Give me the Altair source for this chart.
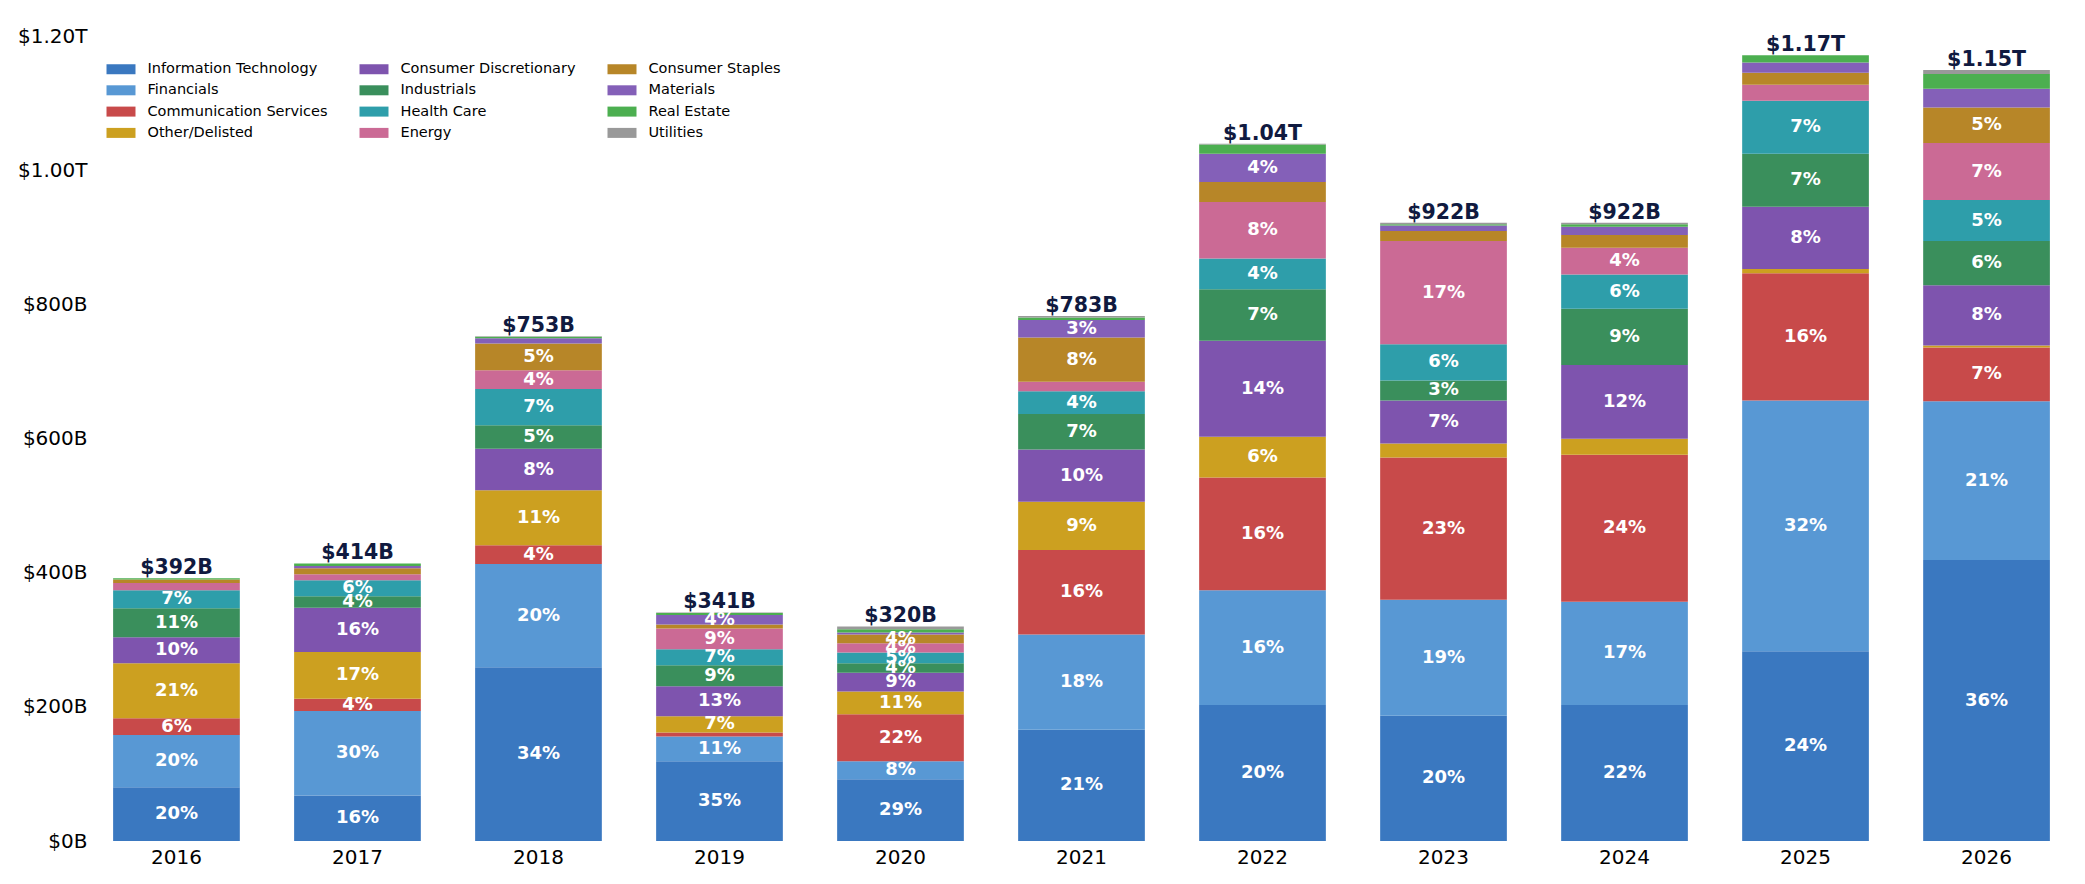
import altair as alt
import pandas as pd

years = ["2016", "2017", "2018", "2019", "2020", "2021", "2022", "2023", "2024", "2025", "2026"]

sectors = [
    "Information Technology", "Financials", "Communication Services", "Other/Delisted",
    "Consumer Discretionary", "Industrials", "Health Care", "Energy",
    "Consumer Staples", "Materials", "Real Estate", "Utilities",
]

# values in $B, per sector, per year
info_tech   = [80, 68, 259, 119, 92, 166, 203, 187, 203, 283, 419]
financials  = [78, 126, 154, 37, 27, 142, 171, 173, 154, 374, 237]
comm_serv   = [25, 18, 28, 6, 70, 126, 168, 212, 219, 190, 80]
other_del   = [82, 70, 82, 24, 34, 72, 61, 21, 24, 6, 3]
cons_disc   = [39, 66, 62, 45, 28, 78, 143, 64, 110, 93, 90]
industrials = [43, 17, 35, 31, 14, 53, 77, 30, 84, 79, 66]
health_care = [27, 24, 54, 24, 16, 34, 46, 54, 51, 79, 61]
energy      = [11, 9, 28, 31, 14, 14, 84, 154, 40, 24, 85]
cons_stap   = [5, 9, 40, 6, 13, 66, 30, 15, 19, 18, 53]
materials   = [0, 3, 8, 14, 3, 26, 42, 8, 12, 15, 28]
real_estate = [2, 4, 2, 3, 5, 4, 14, 2, 4, 11, 22]
utilities   = [0, 0, 1, 1, 4, 2, 1, 2, 2, 0, 6]

series = [info_tech, financials, comm_serv, other_del, cons_disc, industrials,
          health_care, energy, cons_stap, materials, real_estate, utilities]

colors = [
    "#3a78c0",  # Information Technology
    "#5898d4",  # Financials
    "#c84a4a",  # Communication Services
    "#cca020",  # Other/Delisted
    "#7e54ae",  # Consumer Discretionary
    "#3a8f5c",  # Industrials
    "#2e9eaa",  # Health Care
    "#cb6a95",  # Energy
    "#b78628",  # Consumer Staples
    "#8460b8",  # Materials
    "#4caf50",  # Real Estate
    "#999999",  # Utilities
]

rows = []
totals = []
for yi, yr in enumerate(years):
    total = sum(s[yi] for s in series)
    cum = 0
    for si, sec in enumerate(sectors):
        v = series[si][yi]
        y0, y1 = cum, cum + v
        cum = y1
        if v <= 0:
            continue
        pct = v / total * 100
        rows.append({
            "year": yr, "sector": sec, "order": si, "value": v,
            "y0": y0, "y1": y1, "ymid": (y0 + y1) / 2,
            "pct": pct, "label": f"{int(pct + 0.5)}%",
        })
    if total >= 1000:
        tl = f"${total / 1000:.2f}T"
    else:
        tl = f"${total}B"
    totals.append({"year": yr, "total": total, "tlabel": tl})

df = pd.DataFrame(rows)
df_lab = df[df["pct"] >= 3]
df_tot = pd.DataFrame(totals)

font = "DejaVu Sans"

x_enc = alt.X(
    "year:N",
    sort=years,
    scale=alt.Scale(paddingInner=0.3, paddingOuter=0.078),
    axis=alt.Axis(title=None, labelAngle=0, ticks=False, tickSize=0, domain=False,
                  labelFontSize=20, labelPadding=6, labelColor="black", labelFont=font),
)

bars = alt.Chart(df).mark_bar().encode(
    x=x_enc,
    y=alt.Y(
        "y0:Q",
        scale=alt.Scale(domain=[0, 1235], nice=False),
        axis=alt.Axis(
            title=None,
            values=[0, 200, 400, 600, 800, 1000, 1200],
            labelExpr="datum.value >= 1000 ? '$' + format(datum.value / 1000, '.2f') + 'T' : '$' + datum.value + 'B'",
            ticks=False, tickSize=0, domain=False, grid=False,
            labelFontSize=20, labelPadding=12, labelColor="black", labelFont=font,
        ),
    ),
    y2="y1:Q",
    color=alt.Color(
        "sector:N",
        scale=alt.Scale(domain=sectors, range=colors),
        legend=alt.Legend(
            title=None, orient="none", legendX=12, legendY=46, columns=3,
            symbolType="M-1.45,-0.5H1.45V0.5H-1.45Z", symbolSize=400,
            symbolStrokeWidth=0, symbolOpacity=1,
            labelFontSize=14.5, labelFont=font, labelColor="black",
            labelOffset=16.5, columnPadding=31, rowPadding=4.3, labelLimit=400,
            padding=0,
        ),
    ),
    order=alt.Order("order:Q"),
)

pct_text = alt.Chart(df_lab).mark_text(
    color="white", fontWeight="bold", fontSize=18, baseline="middle", font=font,
).encode(
    x=alt.X("year:N", sort=years),
    y=alt.Y("ymid:Q"),
    text="label:N",
)

tot_text = alt.Chart(df_tot).mark_text(
    color="#101a40", fontWeight="bold", fontSize=20.5, baseline="alphabetic", dy=-4, font=font,
).encode(
    x=alt.X("year:N", sort=years),
    y=alt.Y("total:Q"),
    text="tlabel:N",
)

chart = alt.layer(bars, pct_text, tot_text).properties(
    width=1965, height=828,
    padding={"left": 9, "top": 5, "right": 5, "bottom": 5},
).configure(font=font, background="white").configure_view(stroke=None, strokeWidth=0)

chart.save("out.html", embed_options={"renderer": "svg", "actions": False})
